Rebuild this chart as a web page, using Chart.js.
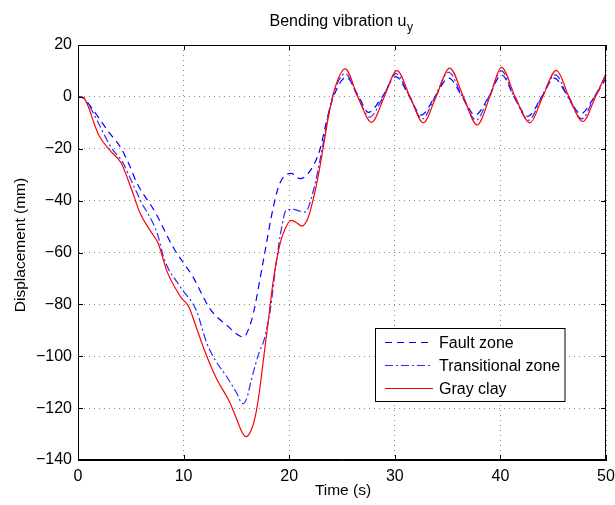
<!DOCTYPE html>
<html>
<head>
<meta charset="utf-8">
<script src="https://cdn.jsdelivr.net/npm/chart.js@4/dist/chart.umd.min.js"></script>
<style>
  html, body { margin: 0; padding: 0; background: #fff; }
  #wrap { width: 615px; height: 505px; }
</style>
</head>
<body>
<div id="wrap"><canvas id="vibChart" width="615" height="505"></canvas></div>
<script>
// Data (time in s, displacement in mm)
const faultT = [0, 0.5, 1.1, 1.9, 2.9, 4, 4.8, 5.6, 7.3, 9, 10.9, 12.5, 14.1, 15.7, 16.2, 16.6, 17.5, 18.5, 19.1, 20.2, 21, 21.8, 22.9, 23.5, 24.1,
    25.4, 26.6, 27.5, 28.8, 30.1, 31.4, 32.5, 33.8, 35.1, 36.4, 37.6, 38.9, 40.1, 41.3, 42.6, 43.9, 45.1, 46.4, 47.6, 48.9, 50];
const faultV = [0, -0.3, -3.2, -7.7, -13.5, -19.3, -25.7, -33.4, -44.4, -57.9, -69.5, -81.7, -88.1, -92.6, -89, -83.6, -64.3, -42.4, -33.4, -29.5, -31.5, -29.5, -20.5, -10, -1,
    7.5, 0, -6, 0, 7.8, 0, -7, 0, 7.2, 0, -7, 0, 8.5, 0, -7.5, 0, 7.2, 0, -6.5, 0, 7];

const transT = [0, 0.5, 1, 1.8, 3, 4.3, 4.6, 5.9, 7.5, 8.2, 9.7, 11.2, 12.2, 13, 14.1, 15, 15.6, 16, 16.4, 17.2, 17.6, 18.2, 18.8, 19.3, 19.7, 20.4, 21, 21.5, 22.3, 23.1, 23.6, 24.1,
    25.3, 26.5, 27.6, 28.9, 30.1, 31.4, 32.6, 33.8, 35.1, 36.4, 37.7, 38.9, 40.1, 41.3, 42.7, 43.9, 45.2, 46.4, 47.7, 48.9, 50];
const transV = [0, -0.4, -3, -9, -18.6, -25.7, -28.3, -39.8, -52.6, -63, -73.3, -82.3, -95, -101.5, -108, -114, -118.3, -116, -109.3, -98, -94, -82.3, -63, -50, -43.7, -43.4, -44, -44.4, -36, -20.5, -9, 0,
    9, 0, -7.8, 0, 9, 0, -8.5, 0, 9.5, 0, -9, 0, 10, 0, -9, 0, 8.5, 0, -8.5, 0, 8];

const clayT = [0, 0.5, 1, 1.5, 2, 3, 4.1, 5.1, 5.9, 7, 7.6, 8.4, 9.7, 10.5, 11.2, 12, 13.1, 14.4, 15, 15.5, 15.9, 16.4, 16.8, 17.2, 17.6, 18, 18.5, 19, 19.4, 20.2, 20.7, 21.2, 21.8, 22.3, 22.7, 23.2, 23.7, 24.3,
    25.3, 26.5, 27.8, 29.0, 30.2, 31.45, 32.7, 33.9, 35.2, 36.5, 37.8, 39.0, 40.1, 41.4, 42.8, 44.0, 45.3, 46.5, 47.8, 49.0, 50];
const clayV = [0, -0.3, -4, -10, -15, -20.5, -25.6, -36, -45, -52.6, -56.5, -67, -77, -81, -88.8, -98, -108.5, -118, -124, -129, -131, -128.5, -123, -113, -100, -87, -70.6, -59, -53, -47.6, -48.5, -49.8, -46.5, -39, -31.5, -20, -8, 3,
    10.8, 0, -9.8, 0, 10.1, 0, -10, 0, 11.1, 0, -10.8, 0, 11.4, 0, -10, 0, 10.2, 0, -9.5, 0, 9];

const xTicks = [0, 10, 20, 30, 40, 50];
const yTicks = [20, 0, -20, -40, -60, -80, -100, -120, -140];

const FONT = "'Liberation Sans', Arial, Helvetica, sans-serif";

function toPoints(ts, vs) {
    return ts.map((t, i) => ({ x: t, y: vs[i] }));
}

// Box, inward ticks, titles and legend in MATLAB style
const matlabFrame = {
    id: 'matlabFrame',
    afterDraw(chart) {
        const ctx = chart.ctx;
        const { left, right, top, bottom } = chart.chartArea;
        const xs = chart.scales.x, ys = chart.scales.y;
        ctx.save();
        ctx.strokeStyle = '#000';
        ctx.lineWidth = 1;
        ctx.setLineDash([]);
        ctx.strokeRect(left + 0.5, top + 0.5, right - left - 1, bottom - top - 1);

        // inward ticks
        ctx.beginPath();
        xTicks.forEach(v => {
            const px = Math.round(xs.getPixelForValue(v)) + 0.5;
            ctx.moveTo(px, bottom); ctx.lineTo(px, bottom - 5);
            ctx.moveTo(px, top); ctx.lineTo(px, top + 5);
        });
        yTicks.forEach(v => {
            const py = Math.round(ys.getPixelForValue(v)) + 0.5;
            ctx.moveTo(left, py); ctx.lineTo(left + 5, py);
            ctx.moveTo(right, py); ctx.lineTo(right - 5, py);
        });
        ctx.stroke();

        // title with subscript
        ctx.fillStyle = '#000';
        ctx.textBaseline = 'alphabetic';
        ctx.font = '16px ' + FONT;
        const main = 'Bending vibration u';
        const wMain = ctx.measureText(main).width;
        ctx.font = '12px ' + FONT;
        const wSub = ctx.measureText('y').width;
        const tx = (left + right) / 2 - (wMain + wSub) / 2 - 1;
        ctx.font = '16px ' + FONT;
        ctx.textAlign = 'left';
        ctx.fillText(main, tx, 26);
        ctx.font = '12px ' + FONT;
        ctx.fillText('y', tx + wMain + 0.5, 31);

        // axis titles
        ctx.font = '15.5px ' + FONT;
        ctx.textAlign = 'center';
        ctx.textBaseline = 'middle';
        ctx.fillText('Time (s)', (left + right) / 2 + 1, 491);
        ctx.save();
        ctx.translate(21, 245);
        ctx.rotate(-Math.PI / 2);
        ctx.fillText('Displacement (mm)', 0, 0);
        ctx.restore();

        // legend
        const bx = 375.5, by = 328.5, bw = 189.5, bh = 73;
        ctx.fillStyle = '#fff';
        ctx.fillRect(bx, by, bw, bh);
        ctx.strokeStyle = '#000';
        ctx.lineWidth = 1;
        ctx.strokeRect(bx, by, bw, bh);
        const rows = [342.5, 365.5, 388.5];
        ctx.font = '16px ' + FONT;
        ctx.textAlign = 'left';
        chart.data.datasets.forEach((ds, i) => {
            const y = rows[i];
            ctx.strokeStyle = ds.borderColor;
            ctx.lineWidth = ds.borderWidth;
            ctx.setLineDash(ds.borderDash || []);
            ctx.beginPath();
            ctx.moveTo(385, y); ctx.lineTo(433, y);
            ctx.stroke();
            ctx.setLineDash([]);
            ctx.fillStyle = '#000';
            ctx.fillText(ds.label, 439, y + 1);
        });
        ctx.restore();
    }
};

const ctx = document.getElementById('vibChart').getContext('2d');
const vibChart = new Chart(ctx, {
    type: 'line',
    data: {
        datasets: [{
            label: 'Fault zone',
            data: toPoints(faultT, faultV),
            borderColor: '#0000ff',
            borderWidth: 1.2,
            borderDash: [7, 5],
            order: 2
        }, {
            label: 'Transitional zone',
            data: toPoints(transT, transV),
            borderColor: '#2a2aff',
            borderWidth: 1.2,
            borderDash: [8, 3, 2, 3],
            order: 1
        }, {
            label: 'Gray clay',
            data: toPoints(clayT, clayV),
            borderColor: '#ff0000',
            borderWidth: 1.2,
            order: 0
        }]
    },
    options: {
        responsive: false,
        animation: false,
        devicePixelRatio: 1,
        layout: { padding: { top: 45, right: 9, left: 0, bottom: 0 } },
        elements: {
            point: { radius: 0 },
            line: { cubicInterpolationMode: 'monotone', fill: false }
        },
        plugins: {
            legend: { display: false },
            title: { display: false },
            tooltip: { enabled: false }
        },
        scales: {
            x: {
                type: 'linear',
                min: 0,
                max: 50,
                afterFit(scale) {
                    scale.height = 45;
                    scale.paddingLeft = 0;
                    scale.paddingRight = 0;
                },
                afterBuildTicks(scale) { scale.ticks = xTicks.map(v => ({ value: v })); },
                ticks: {
                    color: '#000',
                    padding: 7,
                    font: { family: FONT, size: 16 },
                    maxRotation: 0
                },
                grid: { color: '#888', lineWidth: 1, drawTicks: false },
                border: { display: true, color: '#000', dash: [1, 4] }
            },
            y: {
                min: -140,
                max: 20,
                afterFit(scale) {
                    scale.width = 78;
                    scale.paddingTop = 0;
                    scale.paddingBottom = 0;
                },
                afterBuildTicks(scale) { scale.ticks = yTicks.map(v => ({ value: v })); },
                ticks: {
                    color: '#000',
                    padding: 6,
                    font: { family: FONT, size: 16 },
                    callback: value => String(value).replace('-', '\u2212')
                },
                grid: { color: '#888', lineWidth: 1, drawTicks: false },
                border: { display: true, color: '#000', dash: [1, 4] }
            }
        }
    },
    plugins: [matlabFrame]
});
</script>
</body>
</html>
